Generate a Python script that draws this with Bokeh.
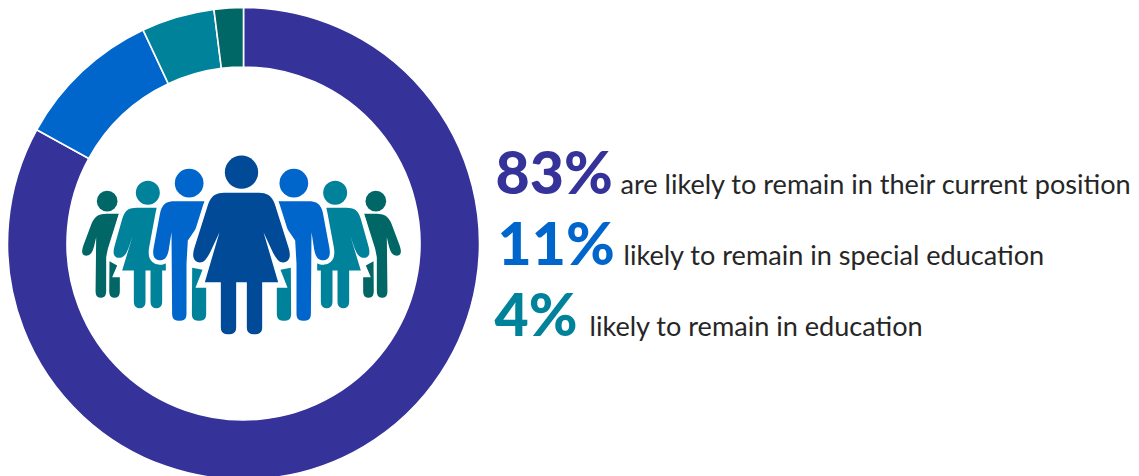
from bokeh.plotting import figure
from bokeh.models import Range1d
from bokeh.embed import file_html
from bokeh.resources import INLINE
from bokeh.core.properties import value
import numpy as np

# Data read from the ring (clockwise from 12 o'clock)
shares = [83, 10, 5, 2]
ring_colors = ["#353399", "#0066CC", "#00829B", "#006666"]

big_labels = ["83%", "11%", "4%"]
big_colors = ["#353399", "#0066CC", "#00829B"]
captions = ["are likely to remain in their current position",
            "likely to remain in special education",
            "likely to remain in education"]

W, H = 1139, 476
p = figure(width=W, height=H, output_backend="svg", toolbar_location=None,
           x_range=Range1d(0, W), y_range=Range1d(0, H),
           min_border=0, background_fill_color="white", border_fill_color="white")
p.axis.visible = False
p.grid.visible = False
p.outline_line_color = None

Y = lambda py: H - py

# Ring
cx, cy, r_out, r_in = 243, Y(243), 236, 176.5
cum = np.cumsum([0] + shares) / sum(shares) * 2 * np.pi
starts = np.pi / 2 - cum[:-1]
ends = np.pi / 2 - cum[1:]
p.annular_wedge(x=[cx] * 4, y=[cy] * 4, inner_radius=r_in, outer_radius=r_out,
                start_angle=starts, end_angle=ends, direction="clock",
                fill_color=ring_colors, line_color="white", line_width=1.6)

# Pictogram: outlines in 3x crop units; "s" marks a sharp vertex
def smooth(pts, rad=20, steps=6):
    out = []
    m = len(pts)
    for i in range(m):
        a, b, c = np.array(pts[i - 1][:2], float), np.array(pts[i][:2], float), np.array(pts[(i + 1) % m][:2], float)
        if len(pts[i]) > 2:
            out.append(tuple(b))
            continue
        la, lc = np.linalg.norm(a - b), np.linalg.norm(c - b)
        s = b + (a - b) / la * min(rad, la / 2)
        e = b + (c - b) / lc * min(rad, lc / 2)
        for t in np.linspace(0, 1, steps):
            out.append(tuple((1 - t) ** 2 * s + 2 * t * (1 - t) * b + t ** 2 * e))
    return out

def to_px(pts, mirror=False):
    xs = [70 + ((1026 - q[0]) if mirror else q[0]) / 3 for q in pts]
    ys = [Y(140 + q[1] / 3) for q in pts]
    return xs, ys

def shape(pts, color, mirror=False, halo=9):
    xs, ys = to_px(smooth(pts), mirror)
    if halo:
        p.patch(xs, ys, fill_color="white", line_color="white", line_width=halo, line_join="round")
    p.patch(xs, ys, fill_color=color, line_color=None)

def head(zx, zy, zr, color, mirror=False):
    x = 70 + ((1026 - zx) if mirror else zx) / 3
    p.circle([x], [Y(140 + zy / 3)], radius=zr / 3, fill_color=color, line_color=None)

man_far = [(145, 220, "s"), (88, 220), (68, 236), (33, 330), (38, 345), (56, 346), (68, 330), (77, 290, "s"),
           (75, 472), (107, 472), (107, 350, "s"), (112, 325, "s")]
man_far_leg = [(117, 362, "s"), (140, 375, "s"), (125, 410, "s"), (148, 410, "s"), (148, 472), (116, 472)]
woman_mid = [(258, 202, "s"), (178, 202), (160, 218), (127, 335), (135, 352), (156, 352), (170, 335), (186, 288, "s"),
             (155, 390, "s"), (190, 390, "s"), (190, 503), (225, 503), (225, 390, "s"), (240, 390, "s"),
             (240, 503), (275, 503), (275, 390, "s"), (286, 390, "s"), (286, 300, "s")]
man_near = [(402, 182, "s"), (292, 182), (272, 200), (246, 340), (255, 358), (278, 360), (292, 345), (303, 275, "s"),
            (305, 541), (348, 541), (348, 370, "s"), (352, 300, "s"), (420, 200, "s")]
man_near_leg = [(365, 382, "s"), (396, 388, "s"), (375, 442, "s"), (407, 442, "s"), (407, 541), (364, 541)]
woman_front = [(513, 157, "s"), (440, 157), (418, 175), (366, 340), (372, 362), (395, 368), (412, 350), (447, 275, "s"),
               (403, 425, "s"), (451, 425, "s"), (451, 581), (497, 581), (497, 425, "s"),
               (529, 425, "s"), (529, 581), (575, 581), (575, 425, "s"), (623, 425, "s"),
               (579, 275, "s"), (614, 350), (631, 368), (654, 362), (660, 340), (608, 175), (586, 157)]

for m in (False, True):
    shape(man_far, "#006666", m, halo=0)
    shape(man_far_leg, "#006666", m, halo=0)
    head(110, 182, 31, "#006666", m)
for m in (False, True):
    shape(woman_mid, "#00829B", m)
    head(232, 157, 36, "#00829B", m)
for m in (False, True):
    shape(man_near, "#0066CC", m)
    shape(man_near_leg, "#00829B", m, halo=0)
    head(356, 128, 43, "#0066CC", m)
shape(woman_front, "#004A98")
head(513, 95, 50, "#004A98")

# Text
big_x = [495, 497, 494]
cap_x = [620, 623, 589]
base = [194, 265, 336]
p.text(x=big_x, y=[Y(b) for b in base], text=big_labels, text_color=big_colors,
       text_font=value("Lato Black"), text_font_style="bold", text_font_size="59px",
       text_baseline="alphabetic", text_align="left", y_offset=-23)
p.text(x=cap_x, y=[Y(b) for b in base], text=captions, text_color="#262626",
       text_font=value("Lato"), text_font_size="27.1px",
       text_baseline="alphabetic", text_align="left", y_offset=-11)

open("out.html", "w").write(file_html(p, INLINE))
